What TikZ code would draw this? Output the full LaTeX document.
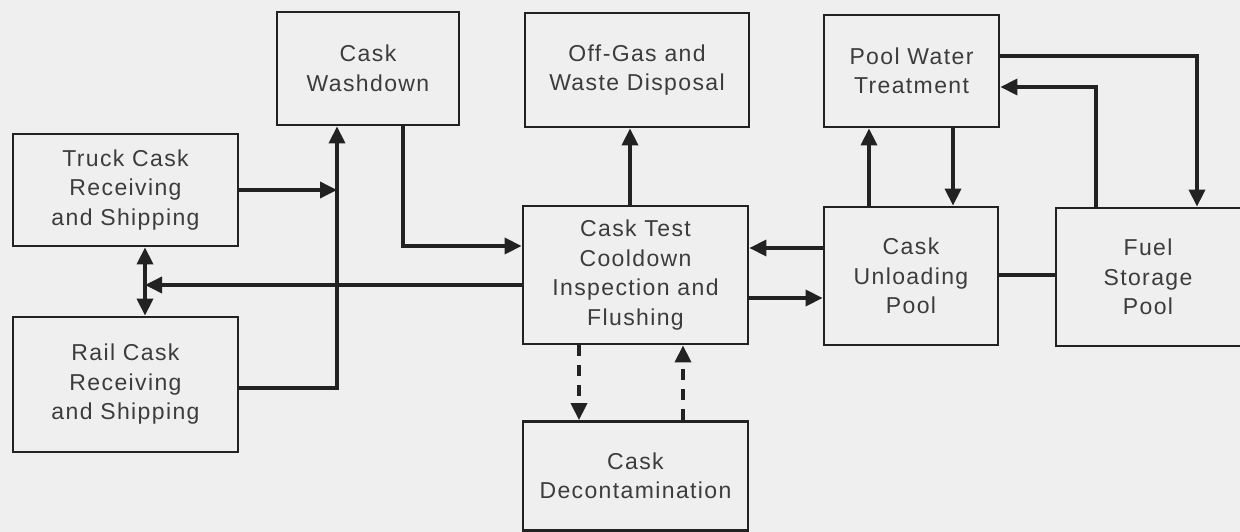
\documentclass[tikz,border=0pt]{standalone}
\usepackage{fontspec}
\setmainfont{Liberation Sans}[LetterSpace=6.0]
\usetikzlibrary{arrows.meta}
\definecolor{bgc}{HTML}{EFEFEF}
\definecolor{txc}{HTML}{3C3C3C}
\definecolor{lnc}{HTML}{222222}
\begin{document}
\begin{tikzpicture}[x=1pt,y=-1pt,
  box/.style={draw=lnc, line width=2.8pt, fill=none, inner sep=0pt, align=center,
    text=txc, font=\fontsize{23}{29.5}\selectfont},
  lbl/.style={inner sep=0pt, align=center, text=txc, font=\fontsize{23}{29.5}\selectfont},
  conn/.style={draw=lnc, line width=3.6pt},
  arr/.style={conn, -{Triangle[length=17pt,width=16pt]}},
  darr/.style={conn, {Triangle[length=17pt,width=16pt]}-{Triangle[length=17pt,width=16pt]}},
  dsh/.style={arr, dash pattern=on 11pt off 9pt}]
\useasboundingbox (0,0) rectangle (1240,532);
\fill[bgc] (0,0) rectangle (1240,532);
\clip (0,0) rectangle (1240,532);
% boxes
\node[box, minimum width=182pt, minimum height=113pt] (wash) at (368,68.5) {Cask\\Washdown};
\node[box, minimum width=224pt, minimum height=114pt] (offgas) at (637,70) {Off-Gas and\\Waste Disposal};
\node[box, minimum width=175pt, minimum height=112pt] (pwt) at (911.5,71) {Pool Water\\Treatment};
\node[box, minimum width=225pt, minimum height=112pt] (truck) at (125.5,190) {Truck Cask\\Receiving\\and Shipping};
\node[box, minimum width=225pt, minimum height=135pt] (rail) at (125.5,384.5) {Rail Cask\\Receiving\\and Shipping};
\node[box, minimum width=225pt, minimum height=138pt] (test) at (635.5,275) {Cask Test\\Cooldown\\Inspection and\\Flushing};
\node[box, minimum width=174pt, minimum height=138pt] (unload) at (911,276) {Cask\\Unloading\\Pool};
\node[box, minimum width=204pt, minimum height=138pt] (fuel) at (1158,277) {};
\node[lbl] (fuelt) at (1148,277) {Fuel\\Storage\\Pool};
\node[box, minimum width=225pt, minimum height=109pt] (decon) at (635.5,476) {Cask\\Decontamination};
% helper coordinates
\coordinate (jv) at (337,0);
\coordinate (jl) at (145,285);
\coordinate (c1) at (1096,0);
\coordinate (c2) at (1197,0);
% connectors
\draw[arr] (truck.east) -- (truck.east -| jv);
\draw[arr] ([yshift=-3.5pt]rail.east) -| (wash.south -| jv);
\draw[arr] ([xshift=35pt]wash.south) |- ([yshift=29pt]test.west);
\draw[arr] ([yshift=-10pt]test.west) -- (jl);
\draw[darr] (truck.south -| jl) -- (rail.north -| jl);
\draw[arr] ([xshift=-5.5pt]test.north) -- ([xshift=-5.5pt]test.north |- offgas.south);
\draw[dsh] ([xshift=-56.5pt]test.south) -- ([xshift=-56.5pt]test.south |- decon.north);
\draw[dsh] ([xshift=47.5pt]decon.north) -- ([xshift=47.5pt]decon.north |- test.south);
\draw[arr] ([yshift=28pt]unload.west) -- ([yshift=28pt]unload.west -| test.east);
\draw[arr] ([yshift=-23pt]test.east) -- ([yshift=-23pt]test.east -| unload.west);
\draw[arr] ([xshift=-42pt]unload.north) -- ([xshift=-42pt]unload.north |- pwt.south);
\draw[arr] ([xshift=41.5pt]pwt.south) -- ([xshift=41.5pt]pwt.south |- unload.north);
\draw[conn] ([yshift=1pt]unload.east) -- ([yshift=1pt]unload.east -| fuel.west);
\draw[arr] (fuel.north -| c1) |- ([yshift=-16pt]pwt.east);
\draw[arr] ([yshift=15pt]pwt.east) -| (fuel.north -| c2);
\end{tikzpicture}
\end{document}
